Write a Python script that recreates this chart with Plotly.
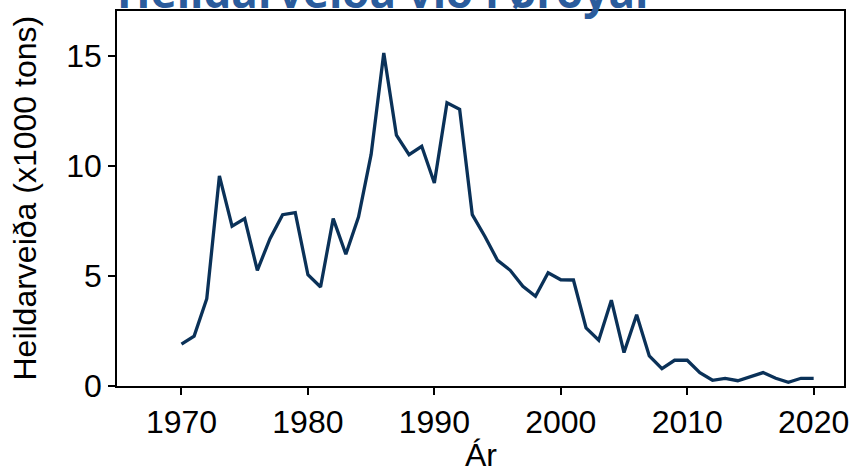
import plotly.graph_objects as go

years = list(range(1970, 2021))
catch = [1.90, 2.27, 3.97, 9.55, 7.27, 7.61, 5.26, 6.70, 7.79, 7.88,
         5.06, 4.50, 7.61, 5.99, 7.68, 10.53, 15.14, 11.40, 10.52, 10.90,
         9.23, 12.88, 12.58, 7.79, 6.80, 5.71, 5.26, 4.53, 4.08, 5.15,
         4.83, 4.82, 2.64, 2.08, 3.90, 1.52, 3.24, 1.37, 0.79, 1.17,
         1.17, 0.61, 0.26, 0.35, 0.24, 0.43, 0.61, 0.35, 0.17, 0.35,
         0.35]
x_ticks = [1970, 1980, 1990, 2000, 2010, 2020]
y_ticks = [0, 5, 10, 15]

title_text = "Heildarveiða við Føroyar"
x_title = "Ár"
y_title = "Heildarveiða (x1000 tons)"

FONT = "Liberation Sans, Arial, sans-serif"
FS = 32

fig = go.Figure()
fig.add_trace(go.Scatter(x=years, y=catch, mode="lines",
                         line=dict(color="#0a3158", width=3.3),
                         showlegend=False))

axis_common = dict(ticks="outside", ticklen=7, tickwidth=1.5, tickcolor="black",
                   showline=True, linecolor="black", linewidth=1.5, mirror=True,
                   showgrid=False, zeroline=False, automargin=False,
                   tickfont=dict(family=FONT, size=FS, color="black"))

fig.update_layout(
    width=852, height=470,
    margin=dict(l=117, r=8, t=11, b=84),
    paper_bgcolor="white", plot_bgcolor="white",
    font=dict(family=FONT, size=FS, color="black"),
    xaxis=dict(range=[1964.9, 2022.4], tickvals=x_ticks, **axis_common),
    yaxis=dict(range=[0, 17.05], tickvals=y_ticks, **axis_common),
    annotations=[
        dict(text="<b>" + title_text + "</b>", xref="paper", yref="paper",
             x=0.370, y=1.0, xanchor="center", yanchor="bottom", showarrow=False,
             yshift=-12,
             font=dict(family="Open Sans, Noto Sans, sans-serif", size=44, color="#2b5c9c")),
        dict(text=x_title, xref="paper", yref="paper", x=0.5, y=0,
             xanchor="center", yanchor="top", yshift=-49, showarrow=False,
             font=dict(family=FONT, size=FS, color="black")),
        dict(text=y_title, xref="paper", yref="paper", x=0, y=0.5,
             xanchor="center", yanchor="middle", xshift=-93, textangle=-90,
             showarrow=False, font=dict(family=FONT, size=FS, color="black")),
    ],
)

fig.write_html("out.html",
               config={"displayModeBar": False},
               post_script="document.body.style.margin='0';document.body.style.overflow='hidden';")
